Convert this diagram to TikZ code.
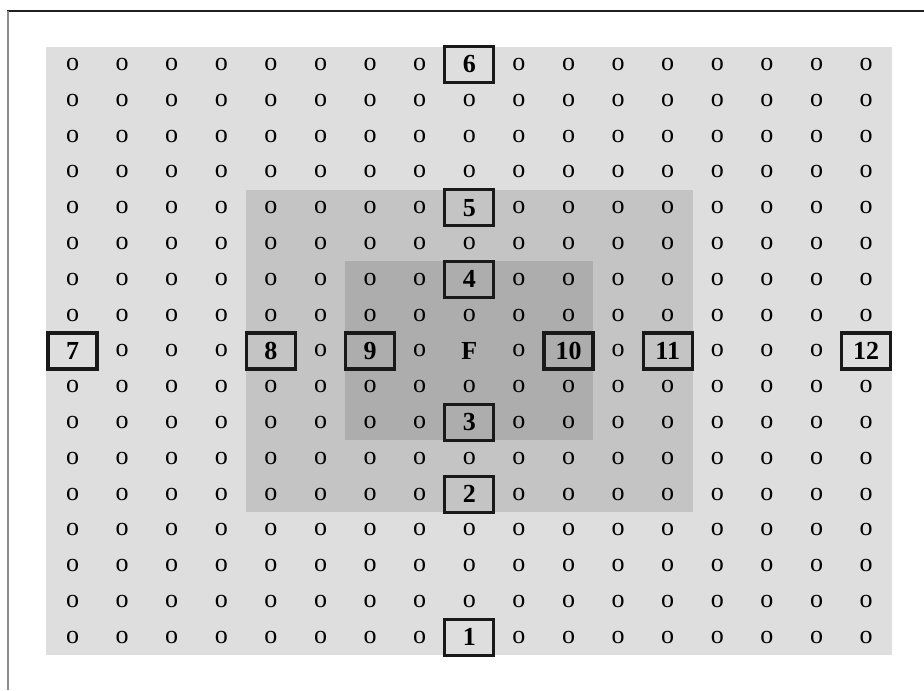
\documentclass[tikz,border=0pt]{standalone}
\usepackage{fontspec}
\setmainfont{Liberation Serif}
\begin{document}
\begin{tikzpicture}[x=0.5pt,y=-0.5pt,
  dot/.style={inner sep=0pt, font=\fontsize{13}{15}\selectfont},
  numbox/.style={draw=black!90, line width=1.6pt, inner sep=0pt,
    minimum width=24.5pt, minimum height=18pt,
    font=\fontsize{13}{15}\selectfont\bfseries}]
  \useasboundingbox (0,0) rectangle (924,690);
  % frame
  \draw[black!88, line width=1pt] (7,11.5) -- (924,11.5);
  \draw[black!45, line width=1.2pt] (8,11.5) -- (8,690);

  \begin{scope}[shift={(72.5,64.5)}, x=24.8pt, y=-17.9pt]
    % shaded zones
    \fill[black!13] (-0.525,-0.5) rectangle (16.525,16.5);
    \fill[black!23] (3.5,3.5) rectangle (12.5,12.5);
    \fill[black!32] (5.5,5.5) rectangle (10.5,10.5);

    % grid of points
    \foreach \c in {0,...,16}
      \foreach \r in {0,...,16} {
        \ifnum\c=8 \else \ifnum\r=8 \else
          \node[dot] (o-\c-\r) at (\c,\r) {o};
        \fi\fi
      }
    \foreach \k in {1,2,3,5,7,9,11,13,14,15} {
      \node[dot] (o-8-\k) at (8,\k) {o};
      \node[dot] (o-\k-8) at (\k,8) {o};
    }
    \node[dot, font=\fontsize{13}{15}\selectfont\bfseries] (F) at (8,8) {F};

    % numbered sites
    \foreach \p/\lab in {(8,16)/1,(8,12)/2,(8,10)/3,(8,6)/4,(8,4)/5,(8,0)/6,
                         (0,8)/7,(4,8)/8,(6,8)/9,(10,8)/10,(12,8)/11,(16,8)/12}
      \node[numbox] (site-\lab) at \p {\lab};
  \end{scope}
\end{tikzpicture}
\end{document}
